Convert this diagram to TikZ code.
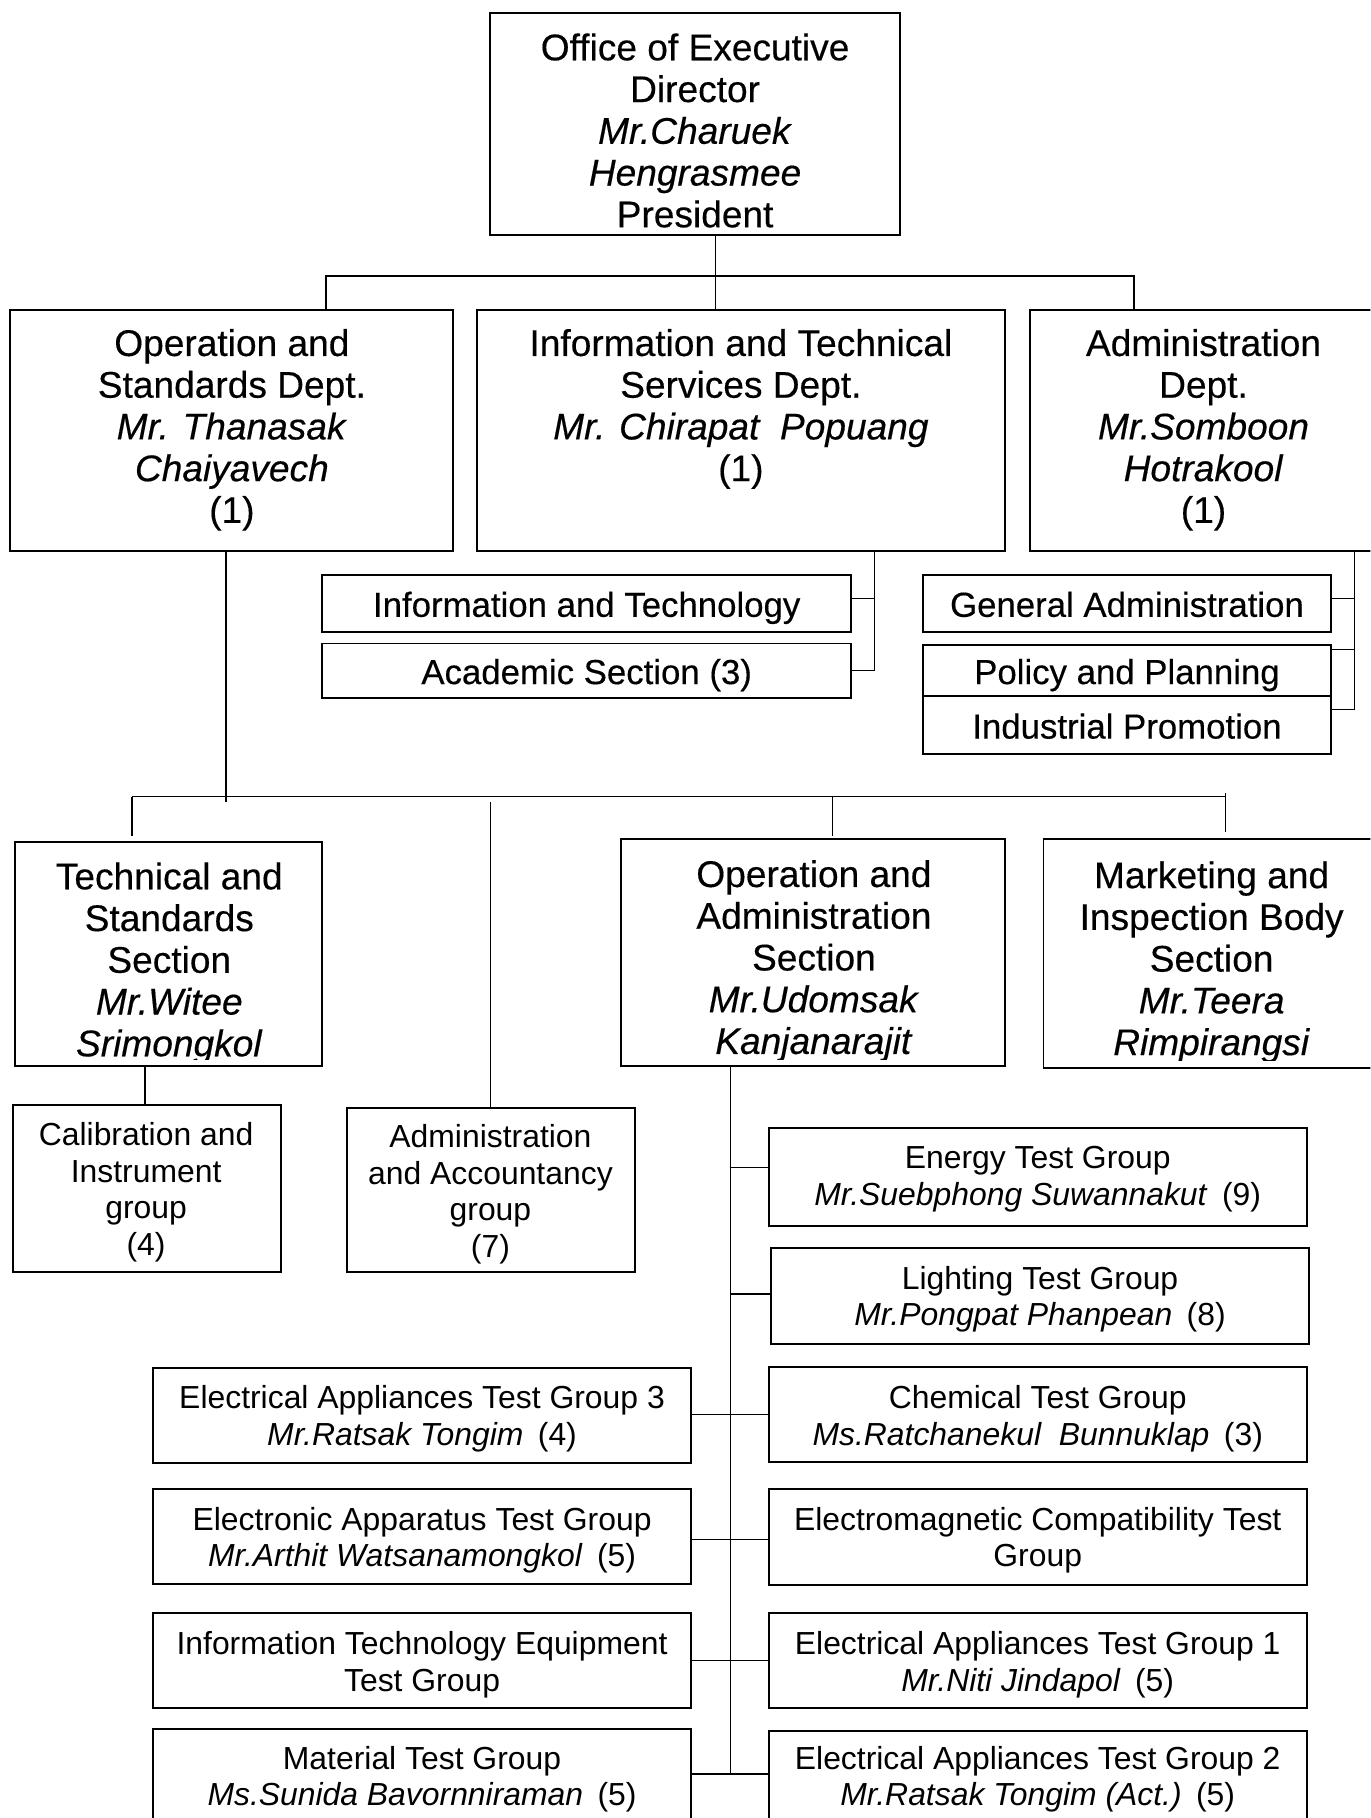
\documentclass[tikz,border=0pt]{standalone}
\usepackage{fontspec}
\setmainfont{Liberation Sans}
\newfontfamily\headfont{Liberation Sans}[FakeBold=0.35]
\usetikzlibrary{fit}
\newcommand\orgstack[1]{\begin{tabular}[t]{@{}c@{}}#1\end{tabular}}
\newcommand\gap{\hspace{0.45em}}

\begin{document}
\begin{tikzpicture}[x=1pt,y=-1pt,
  box/.style={draw, line width=1.7pt, inner sep=0pt},
  link/.style={line width=1.2pt},
  ttl/.style={font=\headfont\fontsize{32}{36}\selectfont, anchor=base, inner sep=0pt},
  sub/.style={font=\headfont\fontsize{30}{34}\selectfont, anchor=base, inner sep=0pt},
  grp/.style={font=\fontsize{27.5}{31.5}\selectfont, anchor=base, inner sep=0pt}]
\clip (0,0) rectangle (1182,1568);
\fill[white] (0,0) rectangle (1182,1568);

% ---------- boxes ----------
\node[box, fit={(423,11)(776,203)}] (top) {};
\node[box, fit={(9,267)(391,475)}] (opstd) {};
\node[box, fit={(411,267)(867,475)}] (infotech) {};
\node[box, fit={(888,267)(1190,475)}] (admin) {};
\node[box, fit={(278,496)(734,545)}] (itsec) {};
\node[box, fit={(278,555)(734,602)}] (acad) {};
\node[box, fit={(796,496)(1148,545)}] (genadm) {};
\node[box, fit={(796,556)(1148,600)}] (policy) {};
\node[box, fit={(796,600)(1148,650)}] (indprom) {};
\node[box, fit={(13,726)(278,919)}] (techstd) {};
\node[box, fit={(536,724)(867,919)}] (opadm) {};
\node[box, fit={(900,724)(1190,921)}] (mktg) {};
\node[box, fit={(11,953)(242,1097)}] (calib) {};
\node[box, fit={(299,956)(548,1097)}] (acct) {};
\node[box, fit={(663,973)(1127,1057)}] (energy) {};
\node[box, fit={(665,1076)(1129,1159)}] (light) {};
\node[box, fit={(663,1179)(1127,1261)}] (chem) {};
\node[box, fit={(663,1284)(1127,1367)}] (emc) {};
\node[box, fit={(663,1391)(1127,1473)}] (eaone) {};
\node[box, fit={(663,1493)(1127,1590)}] (eatwo) {};
\node[box, fit={(132,1180)(596,1262)}] (eathree) {};
\node[box, fit={(132,1284)(596,1366)}] (elec) {};
\node[box, fit={(132,1391)(596,1473)}] (ite) {};
\node[box, fit={(132,1491)(596,1590)}] (matl) {};

% ---------- texts ----------
\begin{scope}
\clip (top.south west) rectangle (top.north east);
\node[ttl] (topT) at (599.5,52) {\orgstack{Office of Executive\\Director\\\textit{Mr.Charuek}\\\textit{Hengrasmee}\\President}};
\end{scope}
\node[ttl] (opstdT) at (200,307) {\orgstack{Operation and\\Standards Dept.\\\textit{Mr. Thanasak}\\\textit{Chaiyavech}\\(1)}};
\node[ttl] (infotechT) at (639,307) {\orgstack{Information and Technical\\Services Dept.\\\textit{Mr. Chirapat\ \ Popuang}\\(1)}};
\node[ttl] (adminT) at (1038,307) {\orgstack{Administration\\Dept.\\\textit{Mr.Somboon}\\\textit{Hotrakool}\\(1)}};

\node[sub] (itsecT) at (506,532) {Information and Technology};
\node[sub] (acadT) at (506,590) {Academic Section (3)};
\node[sub] (genadmT) at (972,532) {General Administration};
\node[sub] (policyT) at (972,590) {Policy and Planning};
\node[sub] (indpromT) at (972,637) {Industrial Promotion};

% the last line of these section boxes runs into the frame and is cut off
\begin{scope}
\clip (13,726) rectangle (278,914);
\node[ttl] (techstdT) at (146,767) {\orgstack{Technical and\\Standards\\Section\\\textit{Mr.Witee}\\\textit{Srimongkol}}};
\end{scope}
\begin{scope}
\clip (536,724) rectangle (867,914);
\node[ttl] (opadmT) at (702,765) {\orgstack{Operation and\\Administration\\Section\\\textit{Mr.Udomsak}\\\textit{Kanjanarajit}}};
\end{scope}
\begin{scope}
\clip (900,724) rectangle (1190,915);
\node[ttl] (mktgT) at (1045,766) {\orgstack{Marketing and\\Inspection Body\\Section\\\textit{Mr.Teera}\\\textit{Rimpirangsi}}};
\end{scope}

\node[grp] (calibT) at (126,988) {\orgstack{Calibration and\\Instrument\\group\\(4)}};
\node[grp] (acctT) at (423,990) {\orgstack{Administration\\and Accountancy\\group\\(7)}};
\node[grp] (energyT) at (895,1008) {\orgstack{Energy Test Group\\\textit{Mr.Suebphong Suwannakut}\gap(9)}};
\node[grp] (lightT) at (897,1112) {\orgstack{Lighting Test Group\\\textit{Mr.Pongpat Phanpean}\gap(8)}};
\node[grp] (chemT) at (895,1215) {\orgstack{Chemical Test Group\\\textit{Ms.Ratchanekul\ \ Bunnuklap}\gap(3)}};
\node[grp] (emcT) at (895,1320) {\orgstack{Electromagnetic Compatibility Test\\Group}};
\node[grp] (eaoneT) at (895,1427) {\orgstack{Electrical Appliances Test Group 1\\\textit{Mr.Niti Jindapol}\gap(5)}};
\node[grp] (eatwoT) at (895,1526) {\orgstack{Electrical Appliances Test Group 2\\\textit{Mr.Ratsak Tongim (Act.)}\gap(5)}};
\node[grp] (eathreeT) at (364,1215) {\orgstack{Electrical Appliances Test Group 3\\\textit{Mr.Ratsak Tongim}\gap(4)}};
\node[grp] (elecT) at (364,1320) {\orgstack{Electronic Apparatus Test Group\\\textit{Mr.Arthit Watsanamongkol}\gap(5)}};
\node[grp] (iteT) at (364,1427) {\orgstack{Information Technology Equipment\\Test Group}};
\node[grp] (matlT) at (364,1526) {\orgstack{Material Test Group\\\textit{Ms.Sunida Bavornniraman}\gap(5)}};

% ---------- connectors: top level ----------
\coordinate (j0) at (617,238);
\coordinate (jA) at (281,238);
\coordinate (jC) at (978,238);
\draw[link] (top.south -| j0) -- (infotech.north -| j0);
\draw[link] (opstd.north -| jA) -- (jA) -- (jC) -- (admin.north -| jC);

% sections under the technical services department
\coordinate (kB) at (754,516);
\draw[link] (infotech.south -| kB) -- (kB |- acad.east) -- (acad.east);
\draw[link] (itsec.east |- kB) -- (kB);

% sections under the administration department
\coordinate (kC1) at (1168,516);
\coordinate (kC2) at (1168,560);
\coordinate (kC3) at (1168,612);
\draw[link] (admin.south -| kC1) -- (kC3) -- (indprom.east |- kC3);
\draw[link] (kC1) -- (genadm.east |- kC1);
\draw[link] (kC2) -- (policy.east |- kC2);

% sections under the operation and standards department
\coordinate (m0) at (195,692);
\coordinate (mA) at (114,687);
\coordinate (mE) at (1057,687);
\coordinate (mB) at (423,692);
\coordinate (mD) at (718,687);
\coordinate (mF) at (1057,684);
\draw[link] (opstd.south -| m0) -- (m0);
\draw[link] (mA) -- (mE);
\draw[link, shorten >=4pt] (mA) -- (techstd.north -| mA);
\draw[link] (mB) -- (acct.north -| mB);
\draw[link, shorten >=2pt] (mD) -- (opadm.north -| mD);
\draw[link, shorten >=6pt] (mF) -- (mktg.north -| mF);
\coordinate (n0) at (125,0);
\draw[link] (techstd.south -| n0) -- (calib.north -| n0);

% test groups on the operation and administration trunk
\coordinate (tTop) at (630,919);
\coordinate (tEnd) at (630,1530);
\draw[link] (opadm.south -| tTop) -- (tEnd);
\foreach \n/\y in {energy/1007, light/1116, chem/1220, emc/1328, eaone/1432, eatwo/1530}{
  \coordinate (r\n) at (630,\y);
  \draw[link] (r\n) -- (\n.west |- r\n);
}
\foreach \n/\y in {eathree/1220, elec/1328, ite/1432, matl/1530}{
  \coordinate (l\n) at (630,\y);
  \draw[link] (l\n) -- (\n.east |- l\n);
}
\end{tikzpicture}
\end{document}
